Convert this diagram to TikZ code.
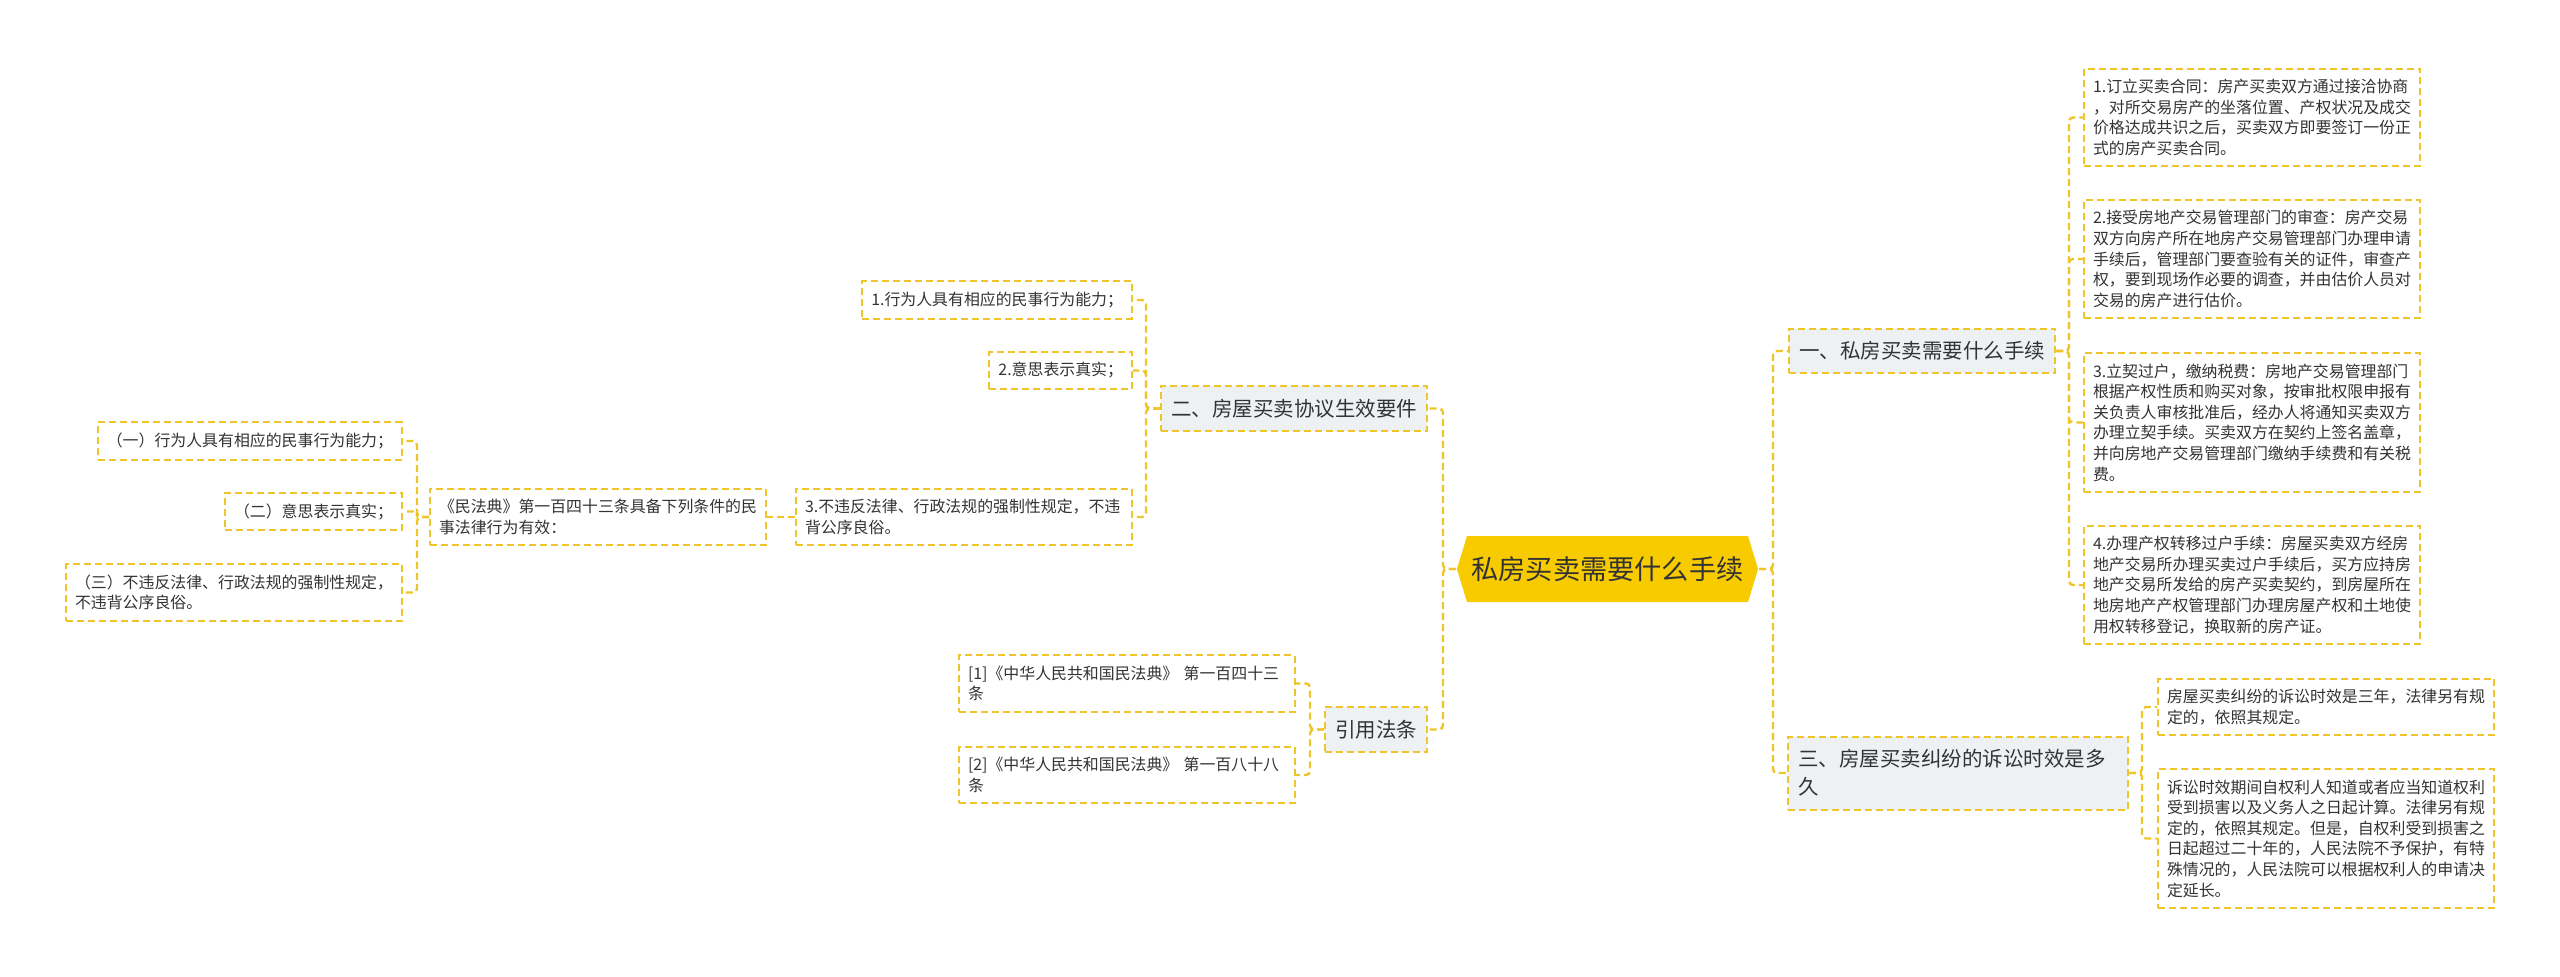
\documentclass[tikz,border=0pt]{standalone}
\usepackage{fontspec}
\setmainfont{Noto Sans CJK SC}
\usetikzlibrary{shapes.symbols}
\definecolor{lineyel}{HTML}{EEC52A}
\definecolor{hubfill}{HTML}{F7CB00}
\definecolor{topicbg}{HTML}{EEF1F4}
\definecolor{ink}{HTML}{333333}
\begin{document}
\begin{tikzpicture}[x=1pt, y=-1pt, line width=2pt, text=ink,
  hub/.style={shape=signal, signal to=west and east, signal pointer angle=146, fill=hubfill,
    minimum height=66pt, inner xsep=4.5pt, inner ysep=0pt, font=\fontsize{27.2pt}{32pt}\selectfont},
  topic/.style={draw=lineyel, dash pattern=on 7pt off 4pt, fill=topicbg, inner xsep=10pt,
    inner ysep=13pt, align=left, font=\fontsize{20.5pt}{28pt}\selectfont},
  leaf/.style={draw=lineyel, dash pattern=on 7pt off 4pt, fill=white, inner xsep=9pt,
    inner ysep=10.5pt, align=left, font=\fontsize{15.9pt}{20.6pt}\selectfont},
  wide/.style={leaf, text width=318pt},
  link/.style={draw=lineyel, dash pattern=on 7pt off 4pt, line width=2.4pt, rounded corners=4pt}]
  \useasboundingbox (0,0) rectangle (2560,977);
  % 主干：中心与两侧分支（坐标按像素，y 向下）
  \node[hub] (hub) at (1607.5,569) {私房买卖需要什么手续};
  \node[topic, anchor=west] (s1) at (1788,351) {一、私房买卖需要什么手续};
  \node[topic, anchor=west, text width=320pt] (s3) at (1787,773) {三、房屋买卖纠纷的诉讼时效是多\\久};
  \node[topic, anchor=east] (s2) at (1428,408.5) {二、房屋买卖协议生效要件};
  \node[topic, anchor=east] (cite) at (1428,729.5) {引用法条};
  % 竖线所在的 x
  \coordinate (tR) at (1773,0);
  \coordinate (tL) at (1443,0);
  \coordinate (t1) at (2069,0);
  \coordinate (t3) at (2142,0);
  \coordinate (t2) at (1146,0);
  \coordinate (tC) at (1310,0);
  \coordinate (tM) at (417,0);
  % 一 的四步
  \node[wide, anchor=west] (p1) at (2083,117.5) {1.订立买卖合同：房产买卖双方通过接洽协商\\，对所交易房产的坐落位置、产权状况及成交\\价格达成共识之后，买卖双方即要签订一份正\\式的房产买卖合同。};
  \node[wide, anchor=west] (p2) at (2083,259) {2.接受房地产交易管理部门的审查：房产交易\\双方向房产所在地房产交易管理部门办理申请\\手续后，管理部门要查验有关的证件，审查产\\权，要到现场作必要的调查，并由估价人员对\\交易的房产进行估价。};
  \node[wide, anchor=west] (p3) at (2083,422.5) {3.立契过户，缴纳税费：房地产交易管理部门\\根据产权性质和购买对象，按审批权限申报有\\关负责人审核批准后，经办人将通知买卖双方\\办理立契手续。买卖双方在契约上签名盖章，\\并向房地产交易管理部门缴纳手续费和有关税\\费。};
  \node[wide, anchor=west] (p4) at (2083,585) {4.办理产权转移过户手续：房屋买卖双方经房\\地产交易所办理买卖过户手续后，买方应持房\\地产交易所发给的房产买卖契约，到房屋所在\\地房地产产权管理部门办理房屋产权和土地使\\用权转移登记，换取新的房产证。};
  % 三 的两条
  \node[wide, anchor=west] (q1) at (2157,707) {房屋买卖纠纷的诉讼时效是三年，法律另有规\\定的，依照其规定。};
  \node[wide, anchor=west] (q2) at (2157,838.5) {诉讼时效期间自权利人知道或者应当知道权利\\受到损害以及义务人之日起计算。法律另有规\\定的，依照其规定。但是，自权利受到损害之\\日起超过二十年的，人民法院不予保护，有特\\殊情况的，人民法院可以根据权利人的申请决\\定延长。};
  % 二 的三条与《民法典》
  \node[leaf, anchor=east] (r1) at (1133,300) {1.行为人具有相应的民事行为能力；};
  \node[leaf, anchor=east] (r2) at (1133,370.5) {2.意思表示真实；};
  \node[wide, anchor=east] (r3) at (1133,517) {3.不违反法律、行政法规的强制性规定，不违\\背公序良俗。};
  \node[wide, anchor=east] (law) at (767,517) {《民法典》第一百四十三条具备下列条件的民\\事法律行为有效：};
  \node[leaf, anchor=east] (m1) at (403,441) {（一）行为人具有相应的民事行为能力；};
  \node[leaf, anchor=east] (m2) at (403,511.5) {（二）意思表示真实；};
  \node[wide, anchor=east] (m3) at (403,592.5) {（三）不违反法律、行政法规的强制性规定，\\不违背公序良俗。};
  % 引用法条
  \node[wide, anchor=east] (c1) at (1296,683.5) {[1]《中华人民共和国民法典》 第一百四十三\\条};
  \node[wide, anchor=east] (c2) at (1296,775) {[2]《中华人民共和国民法典》 第一百八十八\\条};
  % 连线
  \draw[link] (hub.east) -- (hub.east -| tR) |- (s1.west);
  \draw[link] (hub.east) -- (hub.east -| tR) |- (s3.west);
  \draw[link] (hub.west) -- (hub.west -| tL) |- (s2.east);
  \draw[link] (hub.west) -- (hub.west -| tL) |- (cite.east);
  \draw[link] (s1.east) -- (s1.east -| t1) |- (p1.west);
  \draw[link] (s1.east) -- (s1.east -| t1) |- (p2.west);
  \draw[link] (s1.east) -- (s1.east -| t1) |- (p3.west);
  \draw[link] (s1.east) -- (s1.east -| t1) |- (p4.west);
  \draw[link] (s3.east) -- (s3.east -| t3) |- (q1.west);
  \draw[link] (s3.east) -- (s3.east -| t3) |- (q2.west);
  \draw[link] (s2.west) -- (s2.west -| t2) |- (r1.east);
  \draw[link] (s2.west) -- (s2.west -| t2) |- (r2.east);
  \draw[link] (s2.west) -- (s2.west -| t2) |- (r3.east);
  \draw[link] (r3.west) -- (law.east);
  \draw[link] (law.west) -- (law.west -| tM) |- (m1.east);
  \draw[link] (law.west) -- (law.west -| tM) |- (m2.east);
  \draw[link] (law.west) -- (law.west -| tM) |- (m3.east);
  \draw[link] (cite.west) -- (cite.west -| tC) |- (c1.east);
  \draw[link] (cite.west) -- (cite.west -| tC) |- (c2.east);
\end{tikzpicture}
\end{document}
